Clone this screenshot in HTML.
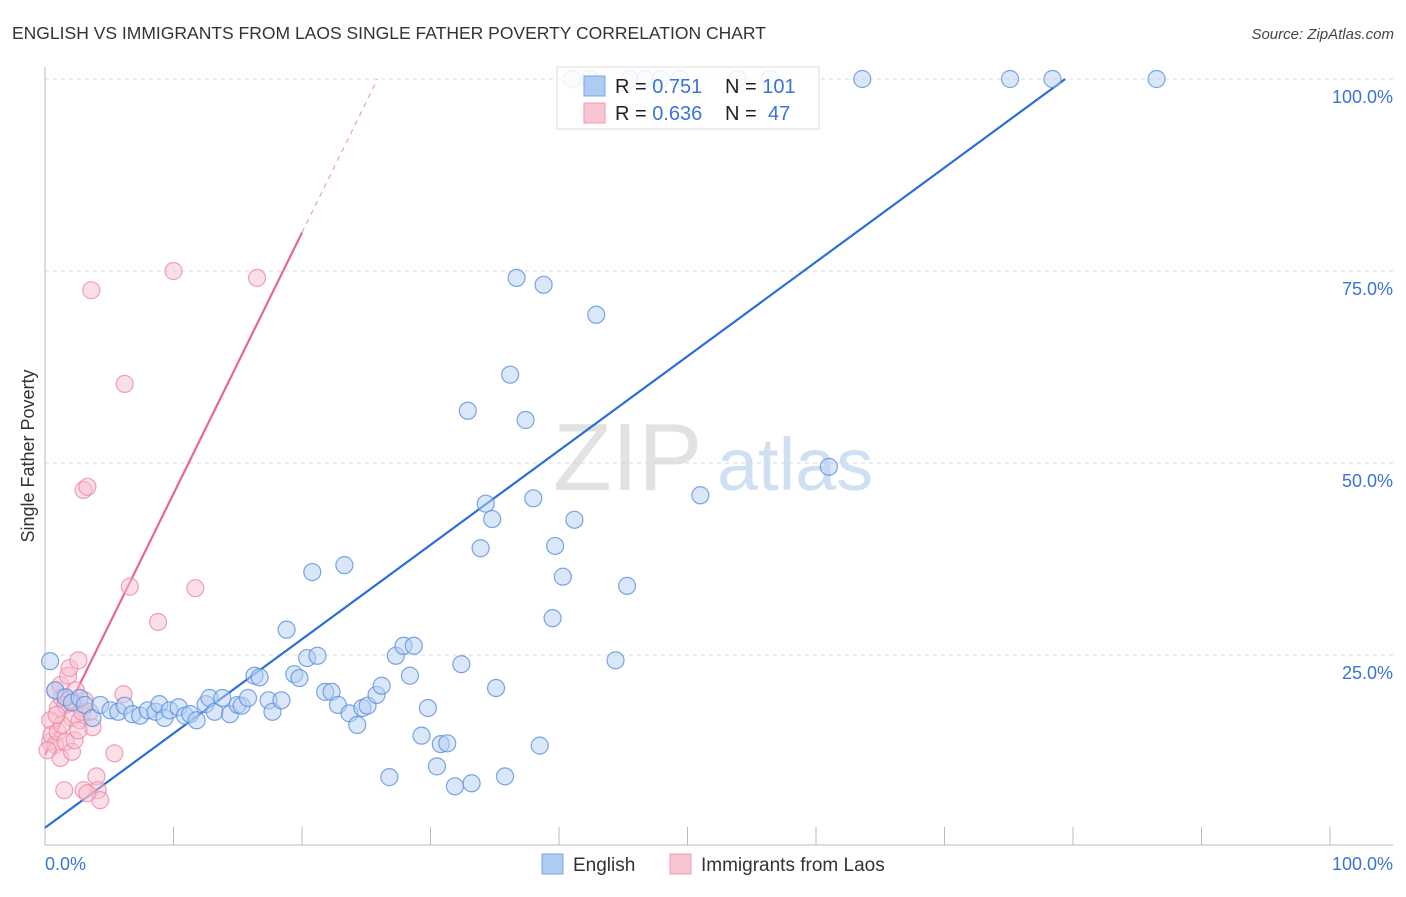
<!DOCTYPE html>
<html><head><meta charset="utf-8"><style>
body{margin:0;background:#fff;font-family:"Liberation Sans",sans-serif;}
svg text{font-family:"Liberation Sans",sans-serif;}
</style></head><body>
<svg id="chart" width="1406" height="892" viewBox="0 0 1406 892" xmlns="http://www.w3.org/2000/svg">
<text x="12" y="39" font-size="17.5" fill="#333">ENGLISH VS IMMIGRANTS FROM LAOS SINGLE FATHER POVERTY CORRELATION CHART</text>
<text x="1394" y="39" font-size="15" fill="#444" font-style="italic" text-anchor="end">Source: ZipAtlas.com</text>
<g>
<text x="553" y="490" font-size="96" fill="#e2e2e2" font-family="Liberation Serif,serif">ZIP</text>
<text x="717" y="490" font-size="74" fill="#cfe0f3">atlas</text>
</g>
<g id="grid"></g>
<g id="axes"></g>
<g id="lines"></g>
<g id="pts"></g>
<text transform="translate(34,456) rotate(-90)" font-size="18" fill="#333" text-anchor="middle">Single Father Poverty</text>
<text x="45" y="870" font-size="18" fill="#3a74d6">0.0%</text>
<text x="1393" y="870" font-size="18" fill="#3a74d6" text-anchor="end">100.0%</text>
<g>
<rect x="557" y="67" width="262" height="62" fill="#fff" fill-opacity="0.85" stroke="#ddd"/>
<rect x="584" y="76" width="21" height="20" fill="#aecbf2" stroke="#7ba5e4"/>
<rect x="584" y="103" width="21" height="20" fill="#f8c6d3" stroke="#ee9ab2"/>
<text x="615" y="93" font-size="20" fill="#222">R = <tspan fill="#3a74d6">0.751</tspan><tspan x="725">N = </tspan><tspan fill="#3a74d6">101</tspan></text>
<text x="615" y="120" font-size="20" fill="#222">R = <tspan fill="#3a74d6">0.636</tspan><tspan x="725">N = </tspan><tspan fill="#3a74d6" x="768">47</tspan></text>
</g>
<g>
<rect x="542" y="854" width="21" height="20" fill="#aecbf2" stroke="#7ba5e4"/>
<text x="573" y="871" font-size="19" fill="#333">English</text>
<rect x="670" y="854" width="21" height="20" fill="#f8c6d3" stroke="#ee9ab2"/>
<text x="701" y="871" font-size="19" fill="#333">Immigrants from Laos</text>
</g>
</svg>
<script>
const engX=[0.4,0.8,1.6,2.1,2.7,3.1,3.7,4.3,5.1,5.7,6.2,6.8,7.4,8.0,8.6,8.9,9.3,9.7,10.4,10.9,11.3,11.8,12.5,12.8,13.2,13.8,14.4,15.0,15.3,15.8,16.3,16.7,17.4,17.7,18.4,18.8,19.4,19.8,20.4,20.8,21.2,21.8,22.3,22.8,23.3,23.7,24.3,24.7,25.1,25.8,26.2,26.8,27.3,27.9,28.4,28.7,29.3,29.8,30.5,30.8,31.3,31.9,32.4,32.9,33.2,33.9,34.3,34.8,35.1,35.8,36.2,36.7,37.4,38.0,38.5,38.8,39.5,39.7,40.3,41.2,42.9,44.4,45.3,51.0,61.0,63.6,75.1,78.4,86.5,41.0,42.4,45.5,46.7,47.9,49.4,53.9,56.4];
const engY=[24.2,20.4,19.5,18.8,19.4,18.5,16.8,18.5,17.8,17.6,18.4,17.3,17.1,17.8,17.6,18.6,16.8,17.8,18.2,17.1,17.3,16.5,18.6,19.4,17.6,19.4,17.3,18.5,18.4,19.4,22.3,22.1,19.1,17.6,19.1,28.3,22.5,22.0,24.6,35.8,24.9,20.2,20.2,18.5,36.7,17.4,15.9,18.1,18.4,19.8,21.0,9.1,24.9,26.2,22.3,26.2,14.5,18.1,10.5,13.4,13.5,7.9,23.8,56.8,8.3,38.9,44.7,42.7,20.7,9.2,61.5,74.1,55.6,45.4,13.2,73.2,29.8,39.2,35.2,42.6,69.3,24.3,34.0,45.8,49.5,100,100,100,100,100,100,100,100,100,100,100,100];
const laoX=[0.8,1.0,1.2,1.3,1.6,1.8,1.9,2.1,2.3,2.4,2.6,2.7,2.9,3.1,3.5,3.7,0.4,0.4,0.5,0.8,1.0,1.2,1.5,1.6,2.1,2.3,3.0,3.3,3.6,4.0,4.1,4.3,3.0,3.3,5.4,6.1,6.2,6.6,8.8,10.0,11.7,16.5,1.9,1.3,0.2,0.9,2.6];
const laoY=[20.4,18.1,21.1,19.4,18.5,22.3,23.3,16.8,18.9,20.4,24.3,16.5,17.6,19.1,17.6,15.6,16.5,13.7,14.6,13.3,15.0,11.6,7.4,13.7,12.4,13.9,46.5,46.9,72.5,9.2,7.4,6.1,7.4,7.0,12.2,19.9,60.3,33.9,29.3,75.0,33.7,74.1,19.1,15.9,12.6,17.2,15.2];
const engFit=[2.5,1.228];
const laoFit=[12.0,3.4];
const yTicks=[25,50,75,100];
const yTickLabels=["25.0%","50.0%","75.0%","100.0%"];
const xTicks=[0,10,20,30,40,50,60,70,80,90,100];

const NS="http://www.w3.org/2000/svg";
const sx=v=>45+v*12.85;
const sy=v=>847-v*7.68;
function mk(tag,attrs,parent){const e=document.createElementNS(NS,tag);for(const k in attrs)e.setAttribute(k,attrs[k]);parent.appendChild(e);return e;}
const grid=document.getElementById('grid'),axes=document.getElementById('axes'),lines=document.getElementById('lines'),pts=document.getElementById('pts');
yTicks.forEach((t,i)=>{
  const l=mk('line',{x1:45,x2:1393,y1:sy(t),y2:sy(t),stroke:'#d8d8d8','stroke-dasharray':'4,4'},grid);
  
  
  const tx=mk('text',{x:1393,y:sy(t)+24,'font-size':18,fill:'#3a74d6','text-anchor':'end'},grid);
  tx.textContent=yTickLabels[i];
  
  
});
const ya=mk('line',{x1:45,x2:45,y1:67,y2:845,stroke:'#bbb'},axes);


const xa=mk('line',{x1:45,x2:1393,y1:845,y2:845,stroke:'#bbb'},axes);


xTicks.forEach(t=>{
  const k=mk('line',{x1:sx(t),x2:sx(t),y1:827,y2:845,stroke:'#bbb'},axes);
  
  
});
function dot(x,y,fill,stroke,name){
  const c=mk('circle',{cx:sx(x),cy:sy(y),r:8.5,fill:fill,'fill-opacity':0.5,stroke:stroke,'stroke-width':1.2,'stroke-opacity':0.8},pts);
  
  
}
laoX.forEach((x,i)=>dot(x,laoY[i],'#f8bfd0','#ec8aa8','laos-point'));
engX.forEach((x,i)=>dot(x,engY[i],'#b5d0f3','#5a90dc','english-point'));
const ex2=(100-engFit[0])/engFit[1];
const bl=mk('line',{x1:sx(0),y1:sy(engFit[0]),x2:sx(ex2),y2:sy(100),stroke:'#2a6fd6','stroke-width':2.2},lines);


const pl=mk('line',{x1:sx(0),y1:sy(laoFit[0]),x2:sx(20),y2:sy(laoFit[0]+laoFit[1]*20),stroke:'#e8668f','stroke-width':2.2},lines);


const lx2=(100-laoFit[0])/laoFit[1];
const pd=mk('line',{x1:sx(20),y1:sy(laoFit[0]+laoFit[1]*20),x2:sx(lx2),y2:sy(100),stroke:'#eca0b8','stroke-width':1.2,'stroke-dasharray':'5,5'},lines);


</script>
</body></html>
